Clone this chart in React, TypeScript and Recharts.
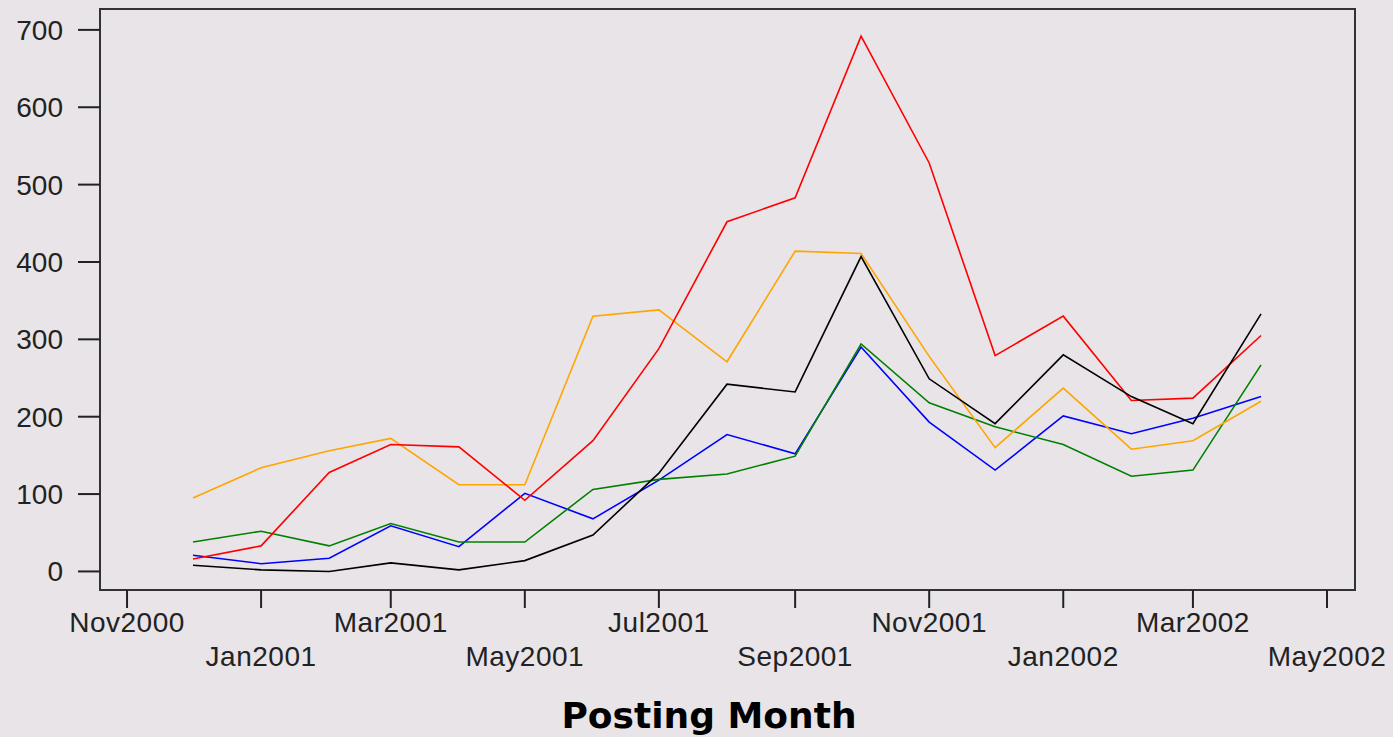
import React from 'react';
import { LineChart, Line, XAxis, YAxis, ReferenceArea } from 'recharts';

const DAY = 86400000;

const monthDates = [
  '2000-12-01', '2001-01-01', '2001-02-01', '2001-03-01', '2001-04-01', '2001-05-01',
  '2001-06-01', '2001-07-01', '2001-08-01', '2001-09-01', '2001-10-01', '2001-11-01',
  '2001-12-01', '2002-01-01', '2002-02-01', '2002-03-01', '2002-04-01',
];

const redSeries = [16, 33, 128, 164, 161, 92, 169, 288, 452, 483, 692, 528, 279, 330, 221, 224, 305];
const orangeSeries = [95, 134, 156, 172, 112, 112, 330, 338, 271, 414, 411, 278, 160, 237, 158, 169, 220];
const blackSeries = [8, 2, 0, 11, 2, 14, 47, 127, 242, 232, 407, 249, 191, 280, 226, 191, 333];
const blueSeries = [21, 10, 17, 59, 32, 101, 68, 118, 177, 152, 290, 193, 131, 201, 178, 198, 226];
const greenSeries = [38, 52, 33, 62, 38, 38, 106, 119, 126, 149, 294, 218, 187, 164, 123, 131, 267];

const tickDates = [
  '2000-11-01', '2001-01-01', '2001-03-01', '2001-05-01', '2001-07-01',
  '2001-09-01', '2001-11-01', '2002-01-01', '2002-03-01', '2002-05-01',
];
const tickLabels = [
  'Nov2000', 'Jan2001', 'Mar2001', 'May2001', 'Jul2001',
  'Sep2001', 'Nov2001', 'Jan2002', 'Mar2002', 'May2002',
];
const yTicks = [0, 100, 200, 300, 400, 500, 600, 700];

const tickValues = tickDates.map((d) => Date.parse(d));
const base = Date.parse('2000-11-01');
const xMin = base - 12.3 * DAY;
const xMax = base + 558.75 * DAY;
const yMin = -24;
const yMax = 727;

const data = monthDates.map((d, i) => ({
  t: Date.parse(d),
  red: redSeries[i],
  orange: orangeSeries[i],
  black: blackSeries[i],
  blue: blueSeries[i],
  green: greenSeries[i],
}));

const BG = '#e8e4e8';
const FG = '#222';
const TICK_FONT = "'Liberation Sans', Arial, sans-serif";

const XTick = (props: any) => {
  const { x, y, payload } = props;
  const idx = tickValues.indexOf(payload.value);
  const dy = idx % 2 === 0 ? 24 : 58;
  return (
    <text x={x} y={y + dy} textAnchor="middle" fontSize={28} fill={FG} fontFamily={TICK_FONT} letterSpacing={0.5}>
      {tickLabels[idx]}
    </text>
  );
};

export default function App() {
  return (
    <div style={{ position: 'absolute', left: 0, top: 0, width: 1393, height: 737, background: BG, overflow: 'hidden' }}>
      <LineChart
        width={1393}
        height={737}
        data={data}
        margin={{ top: 9, right: 38, bottom: 0, left: 0 }}
      >
        <XAxis
          dataKey="t"
          type="number"
          domain={[xMin, xMax]}
          ticks={tickValues}
          allowDataOverflow
          height={147}
          axisLine={false}
          tickLine={{ stroke: FG, strokeWidth: 2 }}
          tickSize={18}
          tickMargin={0}
          tick={<XTick />}
          interval={0}
        />
        <YAxis
          type="number"
          domain={[yMin, yMax]}
          ticks={yTicks}
          allowDataOverflow
          width={100}
          axisLine={false}
          tickLine={{ stroke: FG, strokeWidth: 2 }}
          tickSize={22}
          tickMargin={15}
          tick={{ fontSize: 28, fill: FG, fontFamily: TICK_FONT }}
          interval={0}
        />
        <ReferenceArea
          x1={xMin}
          x2={xMax}
          y1={yMin}
          y2={yMax}
          fill="none"
          stroke="#333"
          strokeWidth={2}
          ifOverflow="visible"
        />
        <Line type="linear" dataKey="blue" stroke="#0000ff" strokeWidth={1.6} dot={false} isAnimationActive={false} />
        <Line type="linear" dataKey="green" stroke="#008000" strokeWidth={1.6} dot={false} isAnimationActive={false} />
        <Line type="linear" dataKey="orange" stroke="#ffa500" strokeWidth={1.6} dot={false} isAnimationActive={false} />
        <Line type="linear" dataKey="red" stroke="#ff0000" strokeWidth={1.6} dot={false} isAnimationActive={false} />
        <Line type="linear" dataKey="black" stroke="#000000" strokeWidth={1.6} dot={false} isAnimationActive={false} />
      </LineChart>
      <svg width={1393} height={737} style={{ position: 'absolute', left: 0, top: 0, pointerEvents: 'none' }}>
        <text
          x={709}
          y={728}
          textAnchor="middle"
          fontSize={36}
          fontWeight="bold"
          fill="#000"
          fontFamily="'DejaVu Sans', sans-serif"
        >
          Posting Month
        </text>
      </svg>
    </div>
  );
}
